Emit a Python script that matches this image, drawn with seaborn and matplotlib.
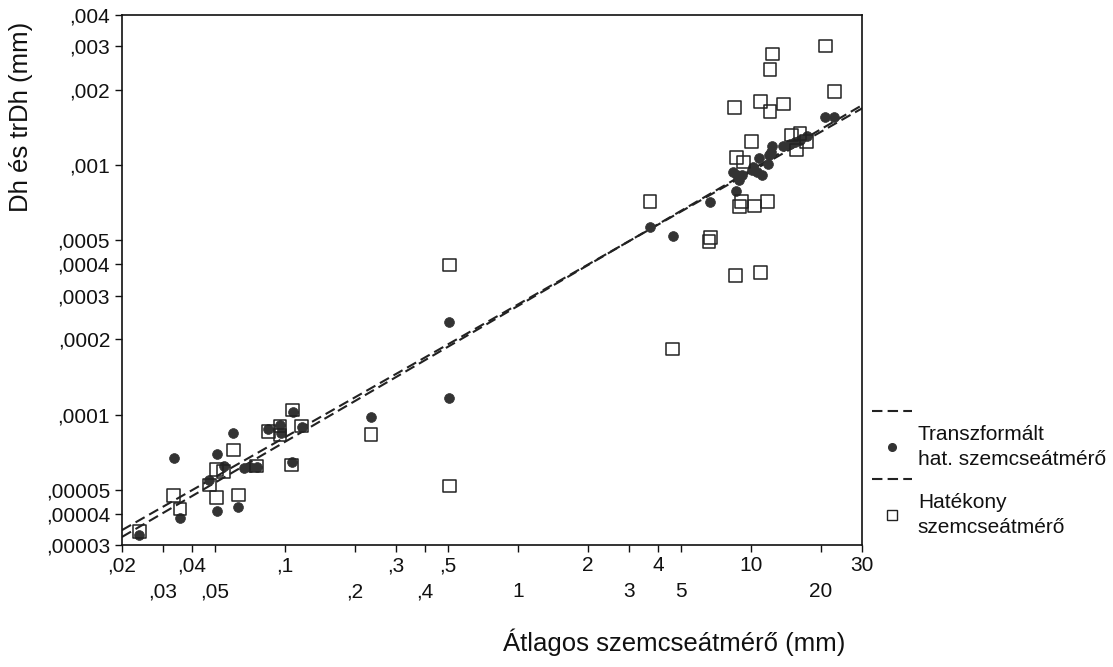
import matplotlib
matplotlib.use("Agg")
import matplotlib.pyplot as plt
from matplotlib.lines import Line2D
import seaborn as sns

# Transzformált hat. szemcseátmérő (trDh) - filled circles
tr_x = [0.0237, 0.0334, 0.0355, 0.0474, 0.0510, 0.0510, 0.0550, 0.0601, 0.0631,
        0.0668, 0.0709, 0.0757, 0.0849, 0.0953, 0.0960, 0.1081, 0.1070, 0.1181,
        0.234, 0.508, 0.508, 3.69, 4.62, 6.68, 8.64,
        8.41, 8.75, 9.14, 8.92, 10.24, 10.08, 10.59, 11.13, 10.87, 11.88,
        12.00, 12.17, 12.29, 13.69, 14.72, 15.47, 16.25, 17.47, 20.81, 22.75]
tr_y = [3.29e-5, 6.68e-5, 3.84e-5, 5.47e-5, 6.95e-5, 4.12e-5, 6.22e-5, 8.46e-5, 4.25e-5,
        6.09e-5, 6.15e-5, 6.18e-5, 8.73e-5, 9.08e-5, 8.41e-5, 1.027e-4, 6.47e-5, 8.94e-5,
        9.81e-5, 2.34e-4, 1.17e-4, 5.67e-4, 5.20e-4, 7.14e-4, 7.90e-4,
        9.42e-4, 9.14e-4, 9.14e-4, 8.72e-4, 9.86e-4, 9.56e-4, 9.42e-4, 9.14e-4, 1.07e-3, 1.01e-3,
        1.10e-3, 1.13e-3, 1.19e-3, 1.19e-3, 1.22e-3, 1.24e-3, 1.26e-3, 1.31e-3, 1.556e-3, 1.565e-3]

# Hatékony szemcseátmérő (Dh) - open squares
dh_x = [0.0237, 0.0334, 0.0355, 0.0474, 0.0510, 0.0510, 0.0544, 0.0601, 0.0631,
        0.0757, 0.0849, 0.0953, 0.0953, 0.1081, 0.1070, 0.1181, 0.234, 0.508, 0.508,
        3.69, 4.62, 6.68, 6.61, 8.61, 10.95, 9.14, 8.92, 10.32, 11.81,
        8.64, 9.28, 10.08, 14.97, 16.25, 15.73, 17.37,
        8.49, 10.95, 12.08, 13.78, 12.36, 12.08, 20.81, 22.81]
dh_y = [3.39e-5, 4.72e-5, 4.18e-5, 5.22e-5, 6.04e-5, 4.64e-5, 5.90e-5, 7.21e-5, 4.76e-5,
        6.22e-5, 8.54e-5, 9.00e-5, 8.28e-5, 1.043e-4, 6.28e-5, 9.00e-5, 8.34e-5, 3.98e-4, 5.17e-5,
        7.14e-4, 1.83e-4, 5.14e-4, 4.93e-4, 3.60e-4, 3.71e-4, 7.14e-4, 6.82e-4, 6.86e-4, 7.14e-4,
        1.07e-3, 1.03e-3, 1.24e-3, 1.32e-3, 1.34e-3, 1.15e-3, 1.24e-3,
        1.70e-3, 1.80e-3, 1.64e-3, 1.76e-3, 2.79e-3, 2.41e-3, 3.006e-3, 1.97e-3]

# fitted lines (log-log), end points
fit_x = [0.02, 30]
fit_tr_y = [3.23e-5, 1.74e-3]
fit_dh_y = [3.44e-5, 1.69e-3]

# x tick labels sit in two staggered rows
x_ticks_row1 = [0.02, 0.04, 0.1, 0.3, 0.5, 2, 4, 10, 30]
x_labels_row1 = [",02", ",04", ",1", ",3", ",5", "2", "4", "10", "30"]
x_ticks_row2 = [0.03, 0.05, 0.2, 0.4, 1, 3, 5, 20]
x_labels_row2 = [",03", ",05", ",2", ",4", "1", "3", "5", "20"]
y_ticks = [0.00003, 0.00004, 0.00005, 0.0001, 0.0002, 0.0003, 0.0004, 0.0005,
           0.001, 0.002, 0.003, 0.004]
y_labels = [",00003", ",00004", ",00005", ",0001", ",0002", ",0003", ",0004", ",0005",
            ",001", ",002", ",003", ",004"]

sns.set_style("ticks")
plt.rcParams['font.family'] = ['Liberation Sans', 'DejaVu Sans']

fig = plt.figure(figsize=(11.13, 6.67), dpi=100)
ax = fig.add_axes([0.1096, 0.183, 0.665, 0.7945])

dash = (0, (5, 2.5))
sns.lineplot(x=fit_x, y=fit_tr_y, ax=ax, color='#222222', lw=1.5, linestyle=dash)
sns.lineplot(x=fit_x, y=fit_dh_y, ax=ax, color='#222222', lw=1.5, linestyle=dash)

sns.scatterplot(x=tr_x, y=tr_y, ax=ax, marker='o', s=50, color='#333333',
                edgecolor='#333333', linewidth=0.5, zorder=3)
sns.scatterplot(x=dh_x, y=dh_y, ax=ax, marker='s', s=85, facecolor='none',
                edgecolor='#222222', linewidth=1.1, zorder=4)

ax.set_xscale('log')
ax.set_yscale('log')
ax.set_xlim(0.02, 30)
ax.set_ylim(0.00003, 0.004)
ax.minorticks_off()
ax.set_xticks(x_ticks_row1)
ax.set_xticklabels(x_labels_row1)
ax.set_xticks(x_ticks_row2, minor=True)
ax.set_xticklabels(x_labels_row2, minor=True)
ax.set_yticks(y_ticks)
ax.set_yticklabels(y_labels)
ax.set_yticks([], minor=True)
ax.tick_params(axis='both', which='both', labelsize=15, length=5, width=1,
               direction='out', colors='#111111')
ax.tick_params(axis='x', which='major', pad=3)
ax.tick_params(axis='x', which='minor', pad=22)

for sp in ax.spines.values():
    sp.set_visible(True)
    sp.set_linewidth(1.2)
    sp.set_color('#111111')

ax.set_xlabel("Átlagos szemcseátmérő (mm)", fontsize=18.5, color='#111111')
ax.xaxis.set_label_coords(0.746, -0.158)
ax.set_ylabel("Dh és trDh (mm)", fontsize=18.5, color='#111111')
ax.yaxis.set_label_coords(-0.12, 0.808)

handles = [
    Line2D([], [], color='#222222', lw=1.5, linestyle=dash),
    Line2D([], [], marker='o', color='#333333', linestyle='none', markersize=5.5),
    Line2D([], [], color='#222222', lw=1.5, linestyle=dash),
    Line2D([], [], marker='s', markerfacecolor='none', markeredgecolor='#222222',
           linestyle='none', markersize=7.5),
]
labels = ["", "Transzformált\nhat. szemcseátmérő", "", "Hatékony\nszemcseátmérő"]
leg = ax.legend(handles, labels, loc='upper left', bbox_to_anchor=(1.002, 0.283),
                frameon=False, fontsize=15, handlelength=1.9, handletextpad=0.3,
                labelspacing=0.12, borderaxespad=0)
for t in leg.get_texts():
    t.set_linespacing(1.4)
    t.set_color('#111111')

fig.savefig("out.png", dpi=100)
